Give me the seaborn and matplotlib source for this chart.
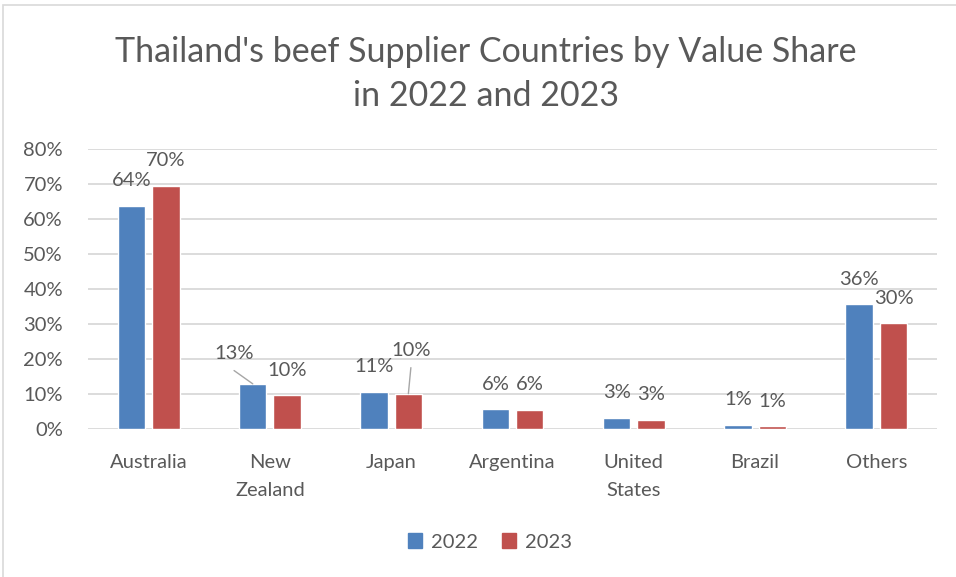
import matplotlib
matplotlib.use("Agg")
import matplotlib.pyplot as plt
import matplotlib.patches as mpatches
import seaborn as sns
import pandas as pd

countries = ["Australia", "New\nZealand", "Japan", "Argentina", "United\nStates", "Brazil", "Others"]
years = ["2022", "2023"]
share_2022 = [63.8, 12.9, 10.6, 5.7, 3.2, 1.2, 35.7]
share_2023 = [69.5, 9.6, 10.1, 5.5, 2.6, 0.8, 30.2]
yticks = [0, 10, 20, 30, 40, 50, 60, 70, 80]
title = "Thailand's beef Supplier Countries by Value Share\nin 2022 and 2023"

BLUE = "#4F81BD"
RED = "#C0504D"
TXT = "#595959"
GRID = "#D9D9D9"
FS = 14.5

df = pd.DataFrame({
    "Country": countries * 2,
    "Year": [years[0]] * len(countries) + [years[1]] * len(countries),
    "Share": share_2022 + share_2023,
})

sns.set_theme(style="white")
plt.rcParams["font.family"] = ["Lato", "DejaVu Sans"]

W, H = 956, 577
fig = plt.figure(figsize=(W / 100, H / 100), dpi=100)
fig.patch.set_facecolor("white")

# outer chart border
fig.patches.append(mpatches.Rectangle((3 / W, -0.1), 1.2, 1 - 4.5 / H + 0.1, transform=fig.transFigure,
                                      fill=False, edgecolor="#D9D9D9", lw=1.2))

ax = fig.add_axes([88 / W, 1 - 429 / H, (937 - 88) / W, (429 - 149) / H])
sns.barplot(data=df, x="Country", y="Share", hue="Year", palette=[BLUE, RED],
            width=0.566, gap=0.2, saturation=1, ax=ax, legend=False)

ax.set_ylim(0, 80)
ax.set_xlim(-0.5, len(countries) - 0.5)
ax.set_yticks(yticks)
ax.set_yticklabels([f"{t}%" for t in yticks])
ax.yaxis.grid(True, color=GRID, lw=1.3)
ax.set_axisbelow(True)
for s in ax.spines.values():
    s.set_visible(False)
ax.set_xlabel("")
ax.set_ylabel("")
ax.tick_params(axis="y", length=0, pad=18, labelsize=FS, labelcolor=TXT)
ax.tick_params(axis="x", length=0, pad=18, labelsize=FS, labelcolor=TXT)
for lbl in ax.get_xticklabels():
    lbl.set_linespacing(1.8)

# data labels
special = {(0, 1): (-19, 30, -18.7, 13.3), (1, 2): (2.5, 43, 2.5, 26)}
for hi, cont in enumerate(ax.containers):
    for ci, bar in enumerate(cont):
        h = bar.get_height()
        x = bar.get_x() + bar.get_width() / 2
        dx, dy = 0, 25
        if (hi, ci) in special:
            dx, dy, lx, ly = special[(hi, ci)]
            ax.annotate("", xy=(x, h), xytext=(lx, ly), textcoords="offset pixels",
                        arrowprops=dict(arrowstyle="-", color="#A6A6A6", lw=1, shrinkA=0, shrinkB=0))
        ax.annotate(f"{h:.0f}%", xy=(x, h), xytext=(dx, dy), textcoords="offset pixels",
                    ha="center", va="center", fontsize=FS, color=TXT)

fig.text(486 / W, 1 - 74 / H, title, ha="center", va="center", fontsize=24.5,
         color=TXT, linespacing=1.5)

handles = [mpatches.Patch(color=BLUE, label=years[0]), mpatches.Patch(color=RED, label=years[1])]
fig.legend(handles=handles, loc="center", bbox_to_anchor=(490 / W, 1 - 542 / H), ncol=2,
           frameon=False, fontsize=FS, labelcolor=TXT, handlelength=0.7, handleheight=0.7,
           handletextpad=0.45, columnspacing=1.2)

fig.savefig("out.png", dpi=100, facecolor="white")
